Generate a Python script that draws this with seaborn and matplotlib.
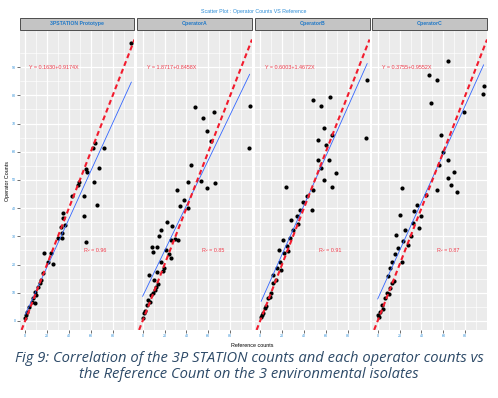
import pandas as pd
import numpy as np
import matplotlib
matplotlib.use("Agg")
import matplotlib.pyplot as plt
from matplotlib.patches import Rectangle
from matplotlib.ticker import FixedLocator
import seaborn as sns

# Panels (facet labels)
panels = ['3PSTATION Prototype', 'OperatorA', 'OperatorB', 'OperatorC']

ref_3p = [97, 63.6, 62, 72, 67.3, 55.7, 56.3, 62.6, 49.5, 48.5, 43.2, 53.5, 65.7, 53.5,
          34.7, 35, 36.6, 32.9, 33.8, 33.8, 30.3, 55.4, 17.2, 23.5, 20.9, 25.1, 16.6,
          14.1, 13.4, 11.5, 9.1, 10.3, 7.2, 9.4, 6.3, 4, 1.6, 0.9, 0.3]
ops_3p = [98.5, 63.2, 61.3, 61.3, 54.3, 53.9, 52.9, 49.4, 49.4, 48.2, 44.3, 44.3, 41.2, 37.2,
          38.2, 36.4, 34, 33.2, 31.1, 29.3, 29.3, 28.1, 24.2, 24.2, 21, 20.1, 16.9,
          14.5, 13.4, 12.2, 10.4, 9.2, 8, 6.3, 6.8, 5.1, 3.3, 2.1, 1]

ref_a = [97.7, 47.9, 64.8, 55.4, 59.2, 62, 44.1, 96.7, 41.3, 53.5, 65.7, 59.2, 31, 37.6,
         33.8, 41.3, 22.5, 27.2, 16.9, 31.9, 8.5, 13.1, 26.3, 19.7, 13.1, 9.4, 16.9, 26.3,
         14.1, 11.3, 7.5, 4.7, 3.8, 0.9, 0, 5.6, 10.3, 21.6, 15,
         2.2, 6.4, 9.8, 12.5, 18.2, 24.5, 29.5]
ops_a = [76.2, 75.9, 74.1, 72, 67.4, 63.8, 55.3, 61.3, 49.3, 49.6, 48.9, 47.2, 46.5, 42.9,
         40.8, 40.1, 35.1, 33.7, 32.3, 28.7, 26.2, 26.2, 22.3, 18.8, 17.4, 24.5, 20.9, 28.7,
         13.1, 11, 9.2, 7.4, 5.7, 2.8, 1.1, 16.3, 14.5, 25.2, 30.1,
         3.4, 6.8, 9.9, 12.2, 17.6, 23.8, 28.9]

ref_b = [97.7, 47.9, 55.4, 63.8, 96.7, 23.5, 58.2, 65.7, 52.6, 60.1, 62.9, 52.6, 55.4, 69.5,
         58.2, 65.7, 47.9, 43.2, 39.4, 36.6, 33.8, 34.7, 30, 27.2, 24.4, 21.6, 17.8, 15,
         12.2, 14.1, 12.2, 10.3, 7.5, 4.7, 2.8, 0.9, 20.7, 28.2, 46.9, 16.9,
         1.8, 5.6, 8.9, 18.9, 25.6]
ops_b = [85.5, 78.4, 76.2, 79.4, 64.9, 47.5, 68.4, 66, 64.2, 62.4, 57.1, 57.1, 54.3, 52.5,
         50, 47.5, 46.5, 44.3, 42.2, 39.4, 37.2, 34.4, 32.3, 29.4, 26.6, 24.1, 20.9, 18.8,
         16.3, 14.5, 13.5, 9.9, 8.2, 4.6, 2.8, 1.4, 28.7, 35.8, 39.4, 25.2,
         2.1, 5.4, 8.6, 18.2, 24.9]

ref_c = [63.8, 46.9, 54.5, 48.8, 96.7, 95.8, 78.9, 58.2, 59.2, 63.8, 56.3, 69.5, 63.8, 66.7,
         72.3, 54.5, 22.5, 44.1, 35.7, 32.9, 39.4, 31.9, 25.4, 30, 23.5, 18.8, 16, 13.1,
         11.3, 9.4, 13.1, 11.3, 8.5, 3.8, 1.9, 0, 20.7, 16.9, 37.6, 6.6,
         1.2, 4.9, 10.2, 14.6, 21.8, 27.6]
ops_c = [92.2, 87.2, 85.5, 77.3, 83.3, 80.5, 74.1, 66, 59.9, 57.1, 55.3, 52.8, 50.7, 48.2,
         45.7, 46.5, 47.2, 44.7, 41.1, 39, 37.2, 34.8, 32.3, 30.1, 28.4, 25.9, 23.8, 20.9,
         18.8, 16, 13.5, 11.7, 9.9, 5.7, 3.2, 2.1, 37.6, 30.5, 33, 8.2,
         1.5, 4.4, 9.6, 14.1, 20.9, 26.8]

equations = ['Y = 0.1630+0.9174X', 'Y = 1.8717+0.8458X',
             'Y = 0.6003+1.4672X', 'Y = 0.3755+0.9552X']
r_squared = ['R\u00b2 = 0.96', 'R\u00b2 = 0.85', 'R\u00b2 = 0.91', 'R\u00b2 = 0.87']

x_breaks = [0, 20, 40, 60, 80]
y_breaks = [0, 10, 20, 30, 40, 50, 60, 70, 80, 90]
x_minor = [10, 30, 50, 70, 90]
y_minor = [5, 15, 25, 35, 45, 55, 65, 75, 85, 95]

frames = []
for name, xs, ys in zip(panels, [ref_3p, ref_a, ref_b, ref_c], [ops_3p, ops_a, ops_b, ops_c]):
    frames.append(pd.DataFrame({'panel': name, 'reference': xs, 'operator': ys}))
df = pd.concat(frames, ignore_index=True)

sns.set_theme(style='darkgrid', rc={'axes.facecolor': '#ebebeb', 'grid.color': 'white'})
plt.rcParams['font.family'] = ['Liberation Sans', 'DejaVu Sans']

g = sns.FacetGrid(df, col='panel', col_order=panels, sharex=True, sharey=True)
g.map_dataframe(sns.regplot, x='reference', y='operator', ci=None,
                scatter_kws={'s': 9, 'color': 'black', 'linewidths': 0, 'alpha': 1},
                line_kws={'color': '#3366ff', 'lw': 0.6})

fig = g.figure
fig.set_size_inches(4.98, 3.98)
fig.subplots_adjust(left=0.040, right=0.978, top=0.922, bottom=0.171, wspace=0.026)

for i, ax in enumerate(g.axes.flat):
    ax.set_title('')
    ax.set_xlabel('')
    ax.set_ylabel('')
    ax.set_xlim(-4.7, 99.8)
    ax.set_ylim(-3.2, 102.8)
    ax.xaxis.set_major_locator(FixedLocator(x_breaks))
    ax.yaxis.set_major_locator(FixedLocator(y_breaks))
    ax.xaxis.set_minor_locator(FixedLocator(x_minor))
    ax.yaxis.set_minor_locator(FixedLocator(y_minor))
    ax.grid(which='major', color='white', lw=0.9)
    ax.grid(which='minor', color='white', lw=0.45)
    ax.tick_params(which='major', length=2, width=0.5, color='#333333', pad=1,
                   labelsize=2.6, labelcolor='#2b8cd6', bottom=True, left=(i == 0))
    ax.tick_params(which='minor', length=0)
    for s in ax.spines.values():
        s.set_visible(False)
    # identity reference line y = x
    ax.axline((0, 0), slope=1, color='#f21b2d', lw=1.5, ls=(0, (2.4, 1.6)), zorder=3)
    ax.text(4, 90, equations[i], color='#f03a4a', fontsize=3.9, ha='left', va='center')
    ax.text(64, 25, r_squared[i], color='#f03a4a', fontsize=3.9, ha='center', va='center')
    # facet strip
    ax.add_patch(Rectangle((0, 1.004), 1, 0.040, transform=ax.transAxes, clip_on=False,
                           facecolor='#c4c4c4', edgecolor='#4d4d4d', lw=0.7))
    ax.text(0.5, 1.024, panels[i], transform=ax.transAxes, ha='center', va='center',
            fontsize=3.7, fontweight='bold', color='#1f78c8')

fig.text(0.51, 0.970, 'Scatter Plot : Operator Counts VS Reference', ha='center',
         va='center', fontsize=3.8, color='#2b8cd6')
fig.text(0.016, 0.545, 'Operator Counts', rotation=90, ha='center', va='center',
         fontsize=3.9, color='black')
fig.text(0.507, 0.133, 'Reference counts', ha='center', va='center', fontsize=3.9,
         color='black')

caption = ('Fig 9: Correlation of the 3P STATION counts and each operator counts vs\n'
           'the Reference Count on the 3 environmental isolates')
fig.text(0.5, 0.079, caption, ha='center', va='center', fontsize=10.6, style='italic',
         color='#2d4a68', family=['Open Sans', 'DejaVu Sans'], linespacing=1.15)

fig.savefig('out.png', dpi=100)
